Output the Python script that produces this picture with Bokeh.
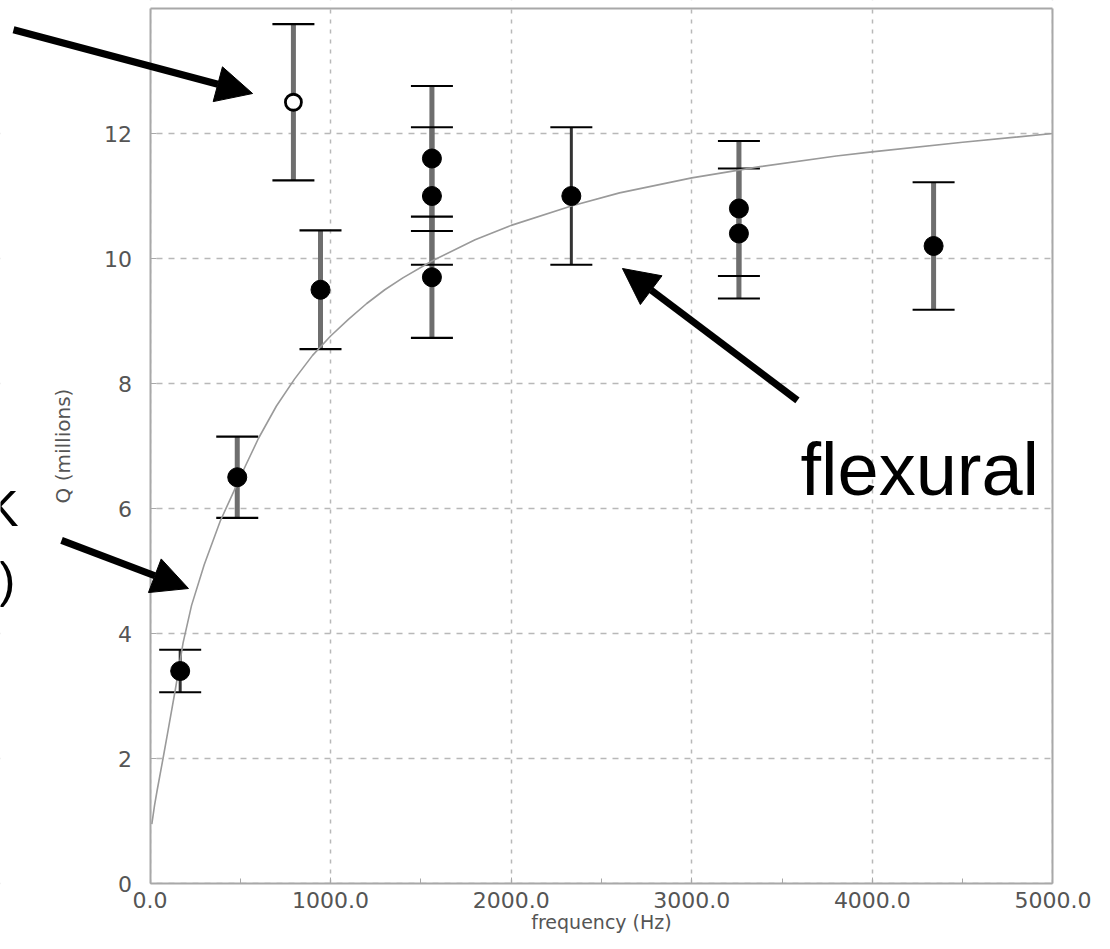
from bokeh.plotting import figure
from bokeh.models import (ColumnDataSource, Whisker, TeeHead, Arrow, NormalHead, Label,
                          FixedTicker, NumeralTickFormatter, Range1d, LinearAxis, BoxAnnotation)
from bokeh.embed import file_html
from bokeh.resources import INLINE

# ---- data ----
# points drawn with thick grey error bars
freq = [483, 944, 1561, 1561, 1561, 3261, 3261, 4339]
q = [6.5, 9.5, 11.6, 11.0, 9.7, 10.8, 10.4, 10.2]
q_err = [0.65, 0.95, 1.16, 1.10, 0.97, 1.08, 1.04, 1.02]

# points drawn with thin dark error bars
freq_b = [167, 2333]
q_b = [3.4, 11.0]
q_err_b = [0.34, 1.10]

# open-circle point
open_freq = [794]
open_q = [12.5]
open_err = [1.25]

curve_f = [10, 25, 40, 72, 100, 140, 183, 230, 300, 389, 460, 528, 600, 700, 800, 900, 1000,
           1100, 1200, 1300, 1400, 1561, 1800, 2000, 2333, 2600, 3000, 3378, 3800, 4011, 4500, 5000]
curve_q = [0.95, 1.25, 1.5, 2.0, 2.45, 3.1, 3.85, 4.45, 5.1, 5.8, 6.25, 6.68, 7.12, 7.64, 8.07, 8.45, 8.76,
           9.03, 9.28, 9.5, 9.69, 9.96, 10.3, 10.53, 10.84, 11.05, 11.29, 11.47, 11.64, 11.71, 11.86, 12.0]

x_ticks = [0, 1000, 2000, 3000, 4000, 5000]
x_minor = [500, 1500, 2500, 3500, 4500]
y_ticks = [0, 2, 4, 6, 8, 10, 12]

X0, X1 = 0, 5000
Y0, Y1 = 0, 14
GRAY = "#a8a8a8"

# The frame covers the whole canvas so that the annotation arrows on the left are not clipped;
# the axes are drawn at fixed locations that form the plot box.
p = figure(width=1094, height=933, output_backend="svg", toolbar_location=None,
           x_range=Range1d(-828, 5230), y_range=Range1d(-0.8, 14.128),
           min_border=0, min_border_left=0, min_border_right=0,
           min_border_top=0, min_border_bottom=0)
p.background_fill_color = "white"
p.border_fill_color = "white"
p.outline_line_color = None

# axes
p.xaxis.ticker = FixedTicker(ticks=x_ticks, minor_ticks=x_minor)
p.yaxis.ticker = FixedTicker(ticks=y_ticks)
p.xaxis.formatter = NumeralTickFormatter(format="0.0")
p.xaxis.bounds = (X0, X1)
p.yaxis.bounds = (Y0, Y1)
p.xaxis.fixed_location = Y0
p.yaxis.fixed_location = X0
for ax in (p.xaxis[0], p.yaxis[0]):
    ax.axis_line_color = GRAY
    ax.axis_line_width = 2
    ax.major_tick_in = 6
    ax.major_tick_out = 0
    ax.minor_tick_in = 5
    ax.minor_tick_out = 0
    ax.major_tick_line_color = GRAY
    ax.minor_tick_line_color = GRAY
    ax.major_label_text_font = "DejaVu Sans"
    ax.major_label_text_font_size = "22px"
    ax.major_label_text_color = "#555555"
    ax.axis_label_text_font = "DejaVu Sans"
    ax.axis_label_text_font_style = "normal"
    ax.axis_label_text_color = "#555555"
p.xaxis.major_label_standoff = 8
p.yaxis.major_label_standoff = 18
p.xaxis.axis_label = "frequency (Hz)"
p.yaxis.axis_label = "Q (millions)"
p.xaxis.axis_label_text_font_size = "19px"
p.yaxis.axis_label_text_font_size = "20px"
p.xaxis.axis_label_standoff = 0
p.yaxis.axis_label_standoff = 27

# top and right borders of the plot box
top_ax = LinearAxis(ticker=FixedTicker(ticks=[]), bounds=(X0, X1), fixed_location=Y1,
                    axis_line_color=GRAY, axis_line_width=2, major_label_text_font_size="0px",
                    major_tick_out=0, major_label_standoff=0)
right_ax = LinearAxis(ticker=FixedTicker(ticks=[]), bounds=(Y0, Y1), fixed_location=X1,
                      axis_line_color=GRAY, axis_line_width=2, major_label_text_font_size="0px",
                      major_tick_out=0, major_label_standoff=0)
p.add_layout(top_ax, "above")
p.add_layout(right_ax, "right")

# grid
p.xgrid.grid_line_color = "#b8b8b8"
p.xgrid.grid_line_dash = "4 6"
p.xgrid.grid_line_width = 1.5
p.ygrid.grid_line_color = "#b8b8b8"
p.ygrid.grid_line_dash = "6 6"
p.ygrid.grid_line_width = 1.5

# white masks outside the plot box (hide grid lines there)
for kw in (dict(right=X0), dict(left=X1), dict(top=Y0), dict(bottom=Y1)):
    p.add_layout(BoxAnnotation(fill_color="white", fill_alpha=1.0, line_alpha=0,
                               level="underlay", **kw))

# fitted curve
p.line(curve_f, curve_q, line_color="#9a9a9a", line_width=1.6)

# error bars
src = ColumnDataSource(dict(x=freq, y=q,
                            lo=[a - b for a, b in zip(q, q_err)],
                            hi=[a + b for a, b in zip(q, q_err)]))
src_b = ColumnDataSource(dict(x=freq_b, y=q_b,
                              lo=[a - b for a, b in zip(q_b, q_err_b)],
                              hi=[a + b for a, b in zip(q_b, q_err_b)]))
src_o = ColumnDataSource(dict(x=open_freq, y=open_q,
                              lo=[a - b for a, b in zip(open_q, open_err)],
                              hi=[a + b for a, b in zip(open_q, open_err)]))


def add_whisker(source, color, width):
    w = Whisker(source=source, base="x", lower="lo", upper="hi", dimension="height",
                line_color=color, line_width=width,
                upper_head=TeeHead(size=42, line_color="black", line_width=2.2),
                lower_head=TeeHead(size=42, line_color="black", line_width=2.2))
    p.add_layout(w)


add_whisker(src, "#6e6e6e", 5)
add_whisker(src_b, "#333333", 3)
add_whisker(src_o, "#6e6e6e", 5)

p.scatter("x", "y", source=src, size=19, fill_color="black", line_color="black")
p.scatter("x", "y", source=src_b, size=19, fill_color="black", line_color="black")
p.scatter("x", "y", source=src_o, size=16, fill_color="white", line_color="black", line_width=2.8)

# annotation arrows
for xs, ys, xe, ye in [(-756, 13.66, 568, 12.64), (-490, 5.49, 213, 4.72), (3585, 7.73, 2616, 9.84)]:
    p.add_layout(Arrow(x_start=xs, y_start=ys, x_end=xe, y_end=ye, line_width=7, line_color="black",
                       end=NormalHead(size=36, fill_color="black", line_color="black")))

p.add_layout(Label(x=3602, y=6.63, text="flexural", text_font="Liberation Sans",
                   text_font_size="74px", text_color="black", text_baseline="alphabetic"))
p.add_layout(Label(x=-728, y=6.0, text="K", text_font="Liberation Sans", text_align="right",
                   text_font_size="50px", text_color="black", text_baseline="alphabetic"))
p.add_layout(Label(x=-745, y=4.85, text=")", text_font="Liberation Sans", text_align="right",
                   text_font_size="50px", text_color="black", text_baseline="alphabetic"))

open("out.html", "w").write(file_html(p, INLINE))
